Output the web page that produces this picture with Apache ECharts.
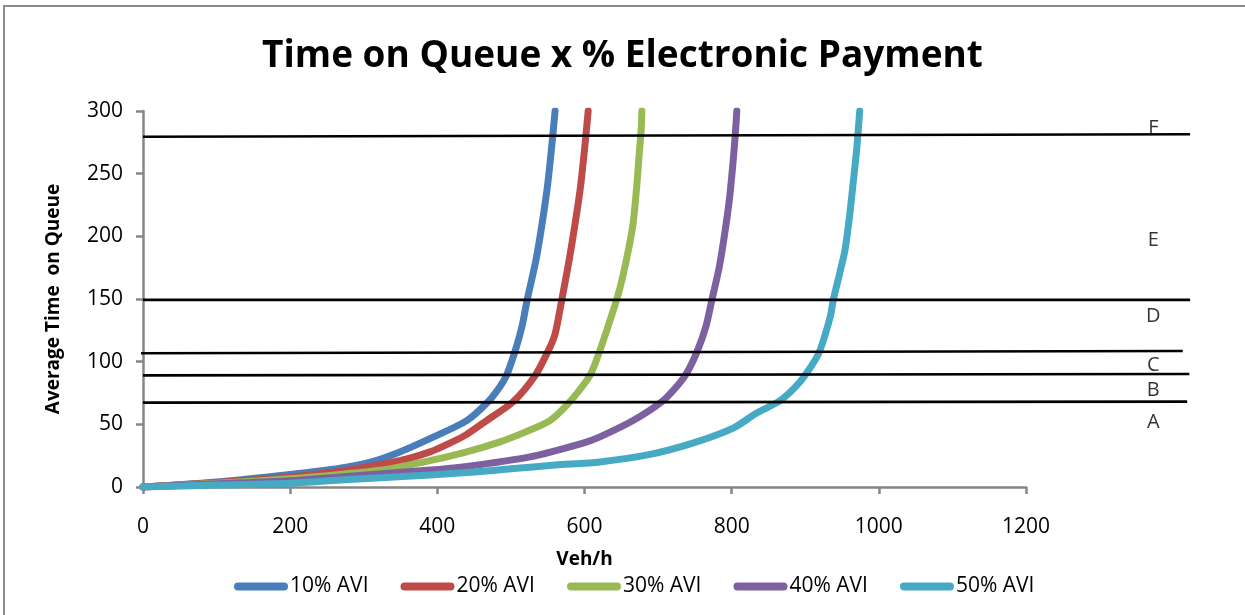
<!DOCTYPE html>
<html>
<head>
<meta charset="utf-8">
<script src="https://cdn.jsdelivr.net/npm/echarts@6/dist/echarts.min.js"></script>
<style>
  html, body { margin: 0; padding: 0; background: #fff; }
  #frame { position: absolute; left: 3px; top: 5px; width: 1260px; height: 630px;
           border-left: 2px solid #8a8a8a; border-top: 2px solid #8a8a8a; }
  #chart { position: absolute; left: 0; top: 0; width: 1245px; height: 615px; }
</style>
</head>
<body>
<div id="frame"></div>
<div id="chart"></div>
<script>
// Average time on queue (s) against flow (veh/h) for each share of electronic payment
const avi10 = [[0,0],[100,4],[200,10],[268,15],[310,20],[349,28],[395,40],[440,53],[469,68],[485,80],[494,89],[506,109],[515,128],[522,149],[535,184],[549,237],[556,275],[560,300]];
const avi20 = [[0,0],[100,3.5],[200,8],[268,12.5],[349,21],[390,28],[417,35],[440,42],[467,53],[503,68],[533,89],[551,109],[560,122],[569,149],[580,184],[594,237],[601,275],[605,300]];
const avi30 = [[0,0],[100,3],[200,6.5],[268,10],[330,14],[390,21],[440,28],[485,36],[520,44],[553,53],[580,68],[603,85],[610,92],[621,109],[633,130],[644,150],[652,168],[660,190],[666,210],[671,240],[674,263],[677,285],[678,300]];
const avi40 = [[0,0],[100,2.5],[200,5],[268,8],[390,13.5],[435,16],[526,24],[598,35],[621,40],[666,53],[705,68],[725,80],[739,91],[753,108],[765,128],[773,149],[783,175],[790,200],[797,230],[802,260],[805,282],[807,300]];
const avi50 = [[0,0],[100,1.5],[200,3],[268,5.6],[390,9.6],[450,12],[500,14.5],[560,17.5],[621,20],[689,26],[747,35],[802,47],[834,59],[866,69],[893,84],[911,99],[920,109],[934,136],[938,149],[947,171],[954,189],[960,215],[965,242],[970,270],[974,300]];

const seriesNames = ['10% AVI', '20% AVI', '30% AVI', '40% AVI', '50% AVI'];
const seriesColors = ['#4A7EBB', '#BE4B48', '#98B954', '#7D60A0', '#46AAC5'];
const seriesData = [avi10, avi20, avi30, avi40, avi50];

// Level-of-service boundary lines: start x, end x, value at start, value at end
const levelStartX = [0, 0, -8, 0, 0];
const levelEndX   = [1423, 1423, 1413, 1422, 1419];
const levelStartY = [279.5, 149.3, 106.7, 89.1, 67.3];
const levelEndY   = [281.5, 149.3, 108.5, 90.2, 68.1];

// Level-of-service letters
const levelNames  = ['F', 'E', 'D', 'C', 'B', 'A'];
const levelLabelX = [1373, 1373, 1373, 1373, 1373, 1373];
const levelLabelY = [286, 197, 136, 97, 77, 52];

const xTicks = { min: 0, max: 1200, interval: 200 };
const yTicks = { min: 0, max: 300, interval: 50 };

const FONT = '"Open Sans", "Liberation Sans", sans-serif';
const AXIS_GREY = '#868686';

// Plot grid, plus an overlay grid with the same scale that runs further right
const GRID_LEFT = 143, GRID_RIGHT = 219, GRID_TOP = 111, GRID_BOTTOM = 128;
const CHART_W = 1245;
const OVERLAY_RIGHT = 40;
const plotWidth = CHART_W - GRID_LEFT - GRID_RIGHT;
const overlayWidth = CHART_W - GRID_LEFT - OVERLAY_RIGHT;
const overlayMax = xTicks.max * overlayWidth / plotWidth;

const series = [];
seriesData.forEach((d, i) => {
  series.push({
    name: seriesNames[i],
    type: 'line',
    data: d,
    showSymbol: false,
    smooth: 0.25,
    lineStyle: { color: seriesColors[i], width: 7, cap: 'round', join: 'round' },
    itemStyle: { color: seriesColors[i] },
    z: 3
  });
});
levelStartY.forEach((y0, i) => {
  series.push({
    name: 'level' + i,
    type: 'line',
    xAxisIndex: 1,
    yAxisIndex: 1,
    data: [[levelStartX[i], y0], [levelEndX[i], levelEndY[i]]],
    showSymbol: false,
    clip: false,
    silent: true,
    lineStyle: { color: '#000', width: 2.6 },
    z: 4
  });
});
series.push({
  name: 'levelLabels',
  type: 'scatter',
  xAxisIndex: 1,
  yAxisIndex: 1,
  clip: false,
  silent: true,
  symbolSize: 0,
  data: levelNames.map((n, i) => ({ name: n, value: [levelLabelX[i], levelLabelY[i]] })),
  label: {
    show: true,
    position: 'inside',
    formatter: p => p.name,
    color: '#000',
    fontFamily: FONT,
    fontSize: 20
  },
  z: 5
});

const chart = echarts.init(document.getElementById('chart'), null, { renderer: 'canvas' });
chart.setOption({
  animation: false,
  backgroundColor: 'transparent',
  title: {
    text: 'Time on Queue x % Electronic Payment',
    left: 'center',
    top: 33,
    textStyle: { fontFamily: FONT, fontWeight: 'bold', fontSize: 37, color: '#000' }
  },
  grid: [
    { left: GRID_LEFT, right: GRID_RIGHT, top: GRID_TOP, bottom: GRID_BOTTOM, containLabel: false },
    { left: GRID_LEFT, right: OVERLAY_RIGHT, top: GRID_TOP, bottom: GRID_BOTTOM, containLabel: false }
  ],
  legend: {
    data: seriesNames,
    left: 229,
    top: 571,
    itemWidth: 54,
    itemHeight: 8,
    itemGap: 32,
    icon: 'path://M4,0 L50,0 A4,4 0 0 1 50,8 L4,8 A4,4 0 0 1 4,0 Z',
    textStyle: { fontFamily: FONT, fontSize: 21, color: '#000', padding: [0, 0, 0, -3] }
  },
  xAxis: [{
    type: 'value',
    gridIndex: 0,
    min: xTicks.min, max: xTicks.max, interval: xTicks.interval,
    name: 'Veh/h',
    nameLocation: 'middle',
    nameGap: 63,
    nameTextStyle: { fontFamily: FONT, fontWeight: 'bold', fontSize: 19, color: '#000' },
    axisLine: { show: true, lineStyle: { color: AXIS_GREY, width: 2.5 } },
    axisTick: { show: true, length: 7, lineStyle: { color: AXIS_GREY, width: 2.5 } },
    axisLabel: { margin: 30, fontFamily: FONT, fontSize: 21, color: '#000', formatter: v => String(v) },
    splitLine: { show: false }
  }, {
    type: 'value',
    gridIndex: 1,
    min: xTicks.min, max: overlayMax,
    show: false
  }],
  yAxis: [{
    type: 'value',
    gridIndex: 0,
    min: yTicks.min, max: yTicks.max, interval: yTicks.interval,
    name: 'Average Time  on Queue',
    nameLocation: 'middle',
    nameGap: 80,
    nameTextStyle: { fontFamily: FONT, fontWeight: 'bold', fontSize: 19, color: '#000' },
    axisLine: { show: true, lineStyle: { color: AXIS_GREY, width: 2.5 } },
    axisTick: { show: true, length: 7, lineStyle: { color: AXIS_GREY, width: 2.5 } },
    axisLabel: { margin: 20, fontFamily: FONT, fontSize: 21, color: '#000', formatter: v => String(v) },
    splitLine: { show: false }
  }, {
    type: 'value',
    gridIndex: 1,
    min: yTicks.min, max: yTicks.max,
    show: false
  }],
  series: series
});
</script>
</body>
</html>
